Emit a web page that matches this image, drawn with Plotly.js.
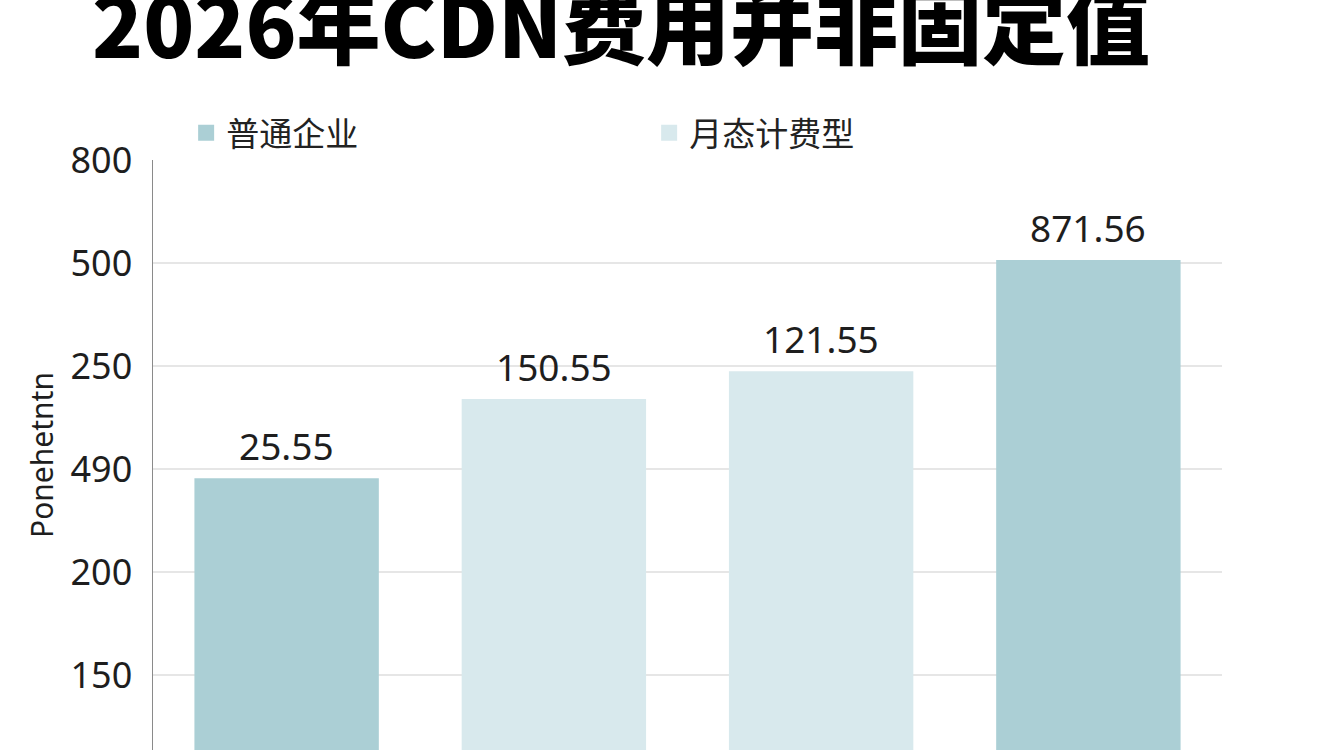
<!DOCTYPE html>
<html>
<head>
<meta charset="utf-8">
<script src="https://cdn.plot.ly/plotly-3.0.1.min.js"></script>
<style>
  html, body { margin: 0; padding: 0; background: #ffffff; }
  #chart { width: 1344px; height: 750px; }
</style>
</head>
<body>
<div id="chart"></div>
<script>
// categorías (ocultas en el eje x)
const categories = ['1', '2', '3', '4'];
const seriesNames = ['普通企业', '月态计费型'];
const seriesColors = ['#abcfd5', '#d8e9ed'];
// a qué serie pertenece cada barra
const barSeries = [0, 1, 1, 0];
// altura de cada barra en unidades del eje (una unidad = una línea de rejilla)
const barHeights = [2.91, 3.68, 3.95, 5.03];
const barLabels = ['25.55', '150.55', '121.55', '871.56'];
// etiquetas del eje y, tal como aparecen
const tickVals = [1, 2, 3, 4, 5, 6];
const tickText = ['150', '200', '490', '250', '500', '800'];

const FONT = '"Noto Sans", "Noto Sans CJK SC", sans-serif';

const barTraces = seriesNames.map((name, s) => {
    const idx = barSeries.map((v, i) => v === s ? i : -1).filter(i => i >= 0);
    return {
        type: 'bar',
        name: name,
        legendgroup: name,
        showlegend: false,
        x: idx.map(i => categories[i]),
        y: idx.map(i => barHeights[i]),
        width: 0.69,
        marker: { color: seriesColors[s], line: { width: 0 } },
        hoverinfo: 'skip'
    };
});

// trazas vacías solo para la leyenda (cuadros más grandes)
const legendTraces = seriesNames.map((name, s) => ({
    type: 'scatter',
    mode: 'markers',
    name: name,
    legendgroup: name,
    x: [null],
    y: [null],
    marker: { symbol: 'square', size: 28, color: seriesColors[s] },
    hoverinfo: 'skip'
}));

// en ejes de categorías, las anotaciones usan el índice de la categoría
const labelAnnotations = categories.map((c, i) => ({
    x: i,
    y: barHeights[i],
    xref: 'x',
    yref: 'y',
    text: barLabels[i],
    showarrow: false,
    yanchor: 'bottom',
    yshift: 5,
    font: { family: FONT, size: 37, color: '#1e1e1e' }
}));

const layout = {
    width: 1344,
    height: 750,
    paper_bgcolor: '#ffffff',
    plot_bgcolor: '#ffffff',
    margin: { t: 160, b: 0, l: 153, r: 122 },
    barmode: 'overlay',
    title: {
        text: '2026年CDN费用并非固定值',
        x: 92 / 1344,
        xanchor: 'left',
        xref: 'container',
        yref: 'container',
        y: 0.962,
        yanchor: 'middle',
        font: { family: '"Noto Sans CJK SC", sans-serif', size: 84, color: '#000000', weight: 900 }
    },
    showlegend: true,
    legend: {
        orientation: 'h',
        x: 0.031,
        xanchor: 'left',
        y: 1.046,
        yanchor: 'middle',
        entrywidth: 418,
        entrywidthmode: 'pixels',
        itemsizing: 'trace',
        font: { family: '"Noto Sans CJK SC", sans-serif', size: 33, color: '#222' },
        bgcolor: 'rgba(0,0,0,0)'
    },
    xaxis: {
        type: 'category',
        categoryorder: 'array',
        categoryarray: categories,
        range: [-0.5, 3.5],
        showticklabels: false,
        showgrid: false,
        zeroline: false,
        showline: false,
        fixedrange: true
    },
    yaxis: {
        range: [0.272, 6],
        tickvals: tickVals,
        ticktext: tickText,
        tickfont: { family: FONT, size: 36, color: '#1e1e1e' },
        ticks: '',
        ticklabelstandoff: 12,
        showline: true,
        linecolor: '#8a8a8a',
        linewidth: 1.5,
        gridcolor: '#e6e6e6',
        gridwidth: 1.5,
        zeroline: false,
        title: {
            text: 'Ponehetntn',
            font: { family: FONT, size: 30, color: '#1e1e1e' },
            standoff: 8
        }
    },
    annotations: labelAnnotations
};

Plotly.newPlot('chart', barTraces.concat(legendTraces), layout, { displayModeBar: false, staticPlot: true });
</script>
</body>
</html>
